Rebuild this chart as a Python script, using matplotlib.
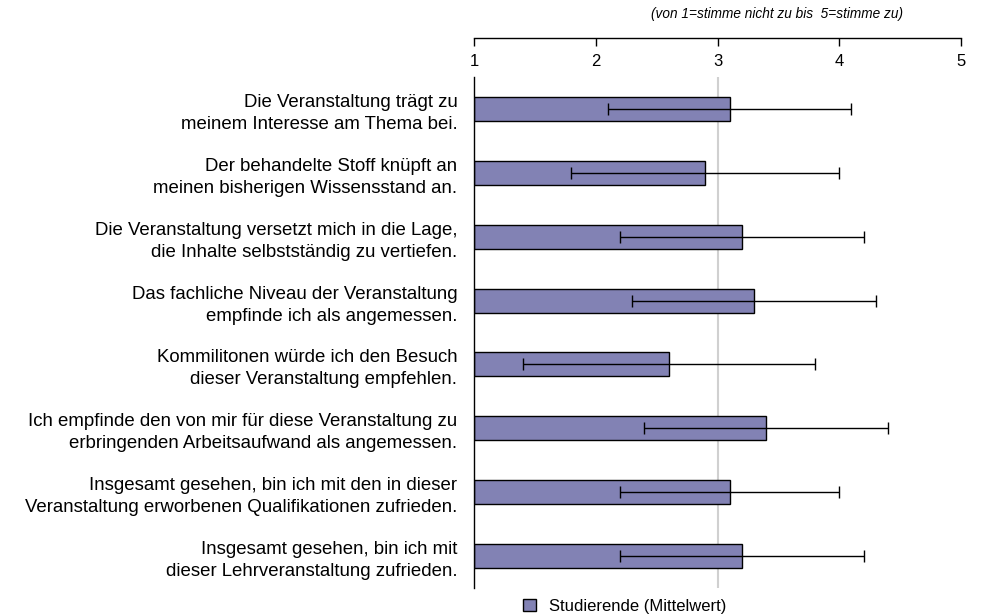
import matplotlib
matplotlib.use("Agg")
import matplotlib.pyplot as plt
import numpy as np

plt.rcParams['font.family'] = ['Liberation Sans', 'DejaVu Sans']

items = [
    "Die Veranstaltung trägt zu\nmeinem Interesse am Thema bei.",
    "Der behandelte Stoff knüpft an\nmeinen bisherigen Wissensstand an.",
    "Die Veranstaltung versetzt mich in die Lage,\ndie Inhalte selbstständig zu vertiefen.",
    "Das fachliche Niveau der Veranstaltung\nempfinde ich als angemessen.",
    "Kommilitonen würde ich den Besuch\ndieser Veranstaltung empfehlen.",
    "Ich empfinde den von mir für diese Veranstaltung zu\nerbringenden Arbeitsaufwand als angemessen.",
    "Insgesamt gesehen, bin ich mit den in dieser\nVeranstaltung erworbenen Qualifikationen zufrieden.",
    "Insgesamt gesehen, bin ich mit\ndieser Lehrveranstaltung zufrieden.",
]
means = [3.1, 2.9, 3.2, 3.3, 2.6, 3.4, 3.1, 3.2]
sds = [1.0, 1.1, 1.0, 1.0, 1.2, 1.0, 0.9, 1.0]
scale_ticks = [1, 2, 3, 4, 5]
scale_min = 1
midpoint = 3
subtitle = "(von 1=stimme nicht zu bis  5=stimme zu)"
legend_label = "Studierende (Mittelwert)"

W, H = 985, 615
fig = plt.figure(figsize=(W / 100, H / 100), dpi=100)
ax = fig.add_axes([474 / W, 1 - 588 / H, (961 - 474) / W, (588 - 77) / H])

y = np.arange(len(items))
widths = [m - scale_min for m in means]
ax.axvline(midpoint, color='#d0d0d0', lw=1.5, zorder=0)
bars = ax.barh(y, widths, left=scale_min, height=0.375, color='#8282b4',
               edgecolor='black', linewidth=1.0, label=legend_label, zorder=2)
ax.errorbar(means, y, xerr=sds, fmt='none', ecolor='black', elinewidth=1.0,
            capsize=4.5, capthick=1.0, zorder=3)

ax.set_xlim(scale_min, scale_ticks[-1])
ax.set_ylim(len(items) - 0.5, -0.5)

for s in ['right', 'bottom']:
    ax.spines[s].set_visible(False)
ax.spines['left'].set_linewidth(1.0)
ax.spines['top'].set_position(('outward', 39 * 0.72))
ax.spines['top'].set_linewidth(1.0)

ax.xaxis.set_ticks_position('top')
ax.set_xticks(scale_ticks)
ax.set_xticklabels([str(t) for t in scale_ticks])
ax.tick_params(axis='x', direction='in', length=5.5, width=1, pad=-22.5,
               labelsize=12)

ax.set_yticks(y)
ax.set_yticklabels(items, fontsize=13.4, linespacing=1.38)
ax.tick_params(axis='y', length=0, pad=12)

fig.text(903 / W, 1 - 14 / H, subtitle, ha='right', va='center',
         fontsize=9.8, style='italic')

fig.legend(handles=[bars], labels=[legend_label], loc='center',
           bbox_to_anchor=(625 / W, 1 - 606 / H), frameon=False,
           fontsize=12, handlelength=0.75, handleheight=0.75, handletextpad=0.8,
           borderpad=0.1)

fig.savefig("out.png", dpi=100)
